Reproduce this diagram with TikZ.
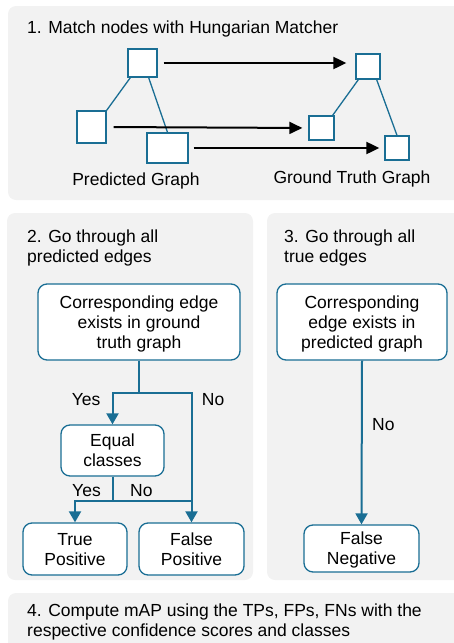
\documentclass[tikz,border=0pt]{standalone}
\usepackage{fontspec}
\setmainfont{Liberation Sans}
\usetikzlibrary{arrows.meta,calc}
\definecolor{teal}{HTML}{1A6E94}
\definecolor{panelgray}{HTML}{F2F2F2}
\begin{document}
\begin{tikzpicture}[x=1pt,y=-1pt,
  every node/.style={font=\fontsize{17.5}{20}\selectfont, inner sep=0pt},
  panel/.style={fill=panelgray, draw=none, rounded corners=8pt},
  sq/.style={draw=teal, fill=white, line width=1.3pt, inner sep=0pt},
  link/.style={draw=teal, line width=1.3pt},
  blk/.style={draw=black, line width=2pt, -{Triangle[length=13pt,width=12pt]}},
  box/.style={draw=teal, fill=white, line width=1.3pt, rounded corners=9pt, align=center, inner sep=0pt, text depth=0pt},
  flow/.style={draw=teal, line width=2pt},
  flowarr/.style={flow, -{Triangle[length=11pt,width=12pt]}},
  lbl/.style={anchor=base west}
]
\useasboundingbox (0,0) rectangle (453,643);
% panels
\fill[panel] (8,6) rectangle (465,200);
\fill[panel] (7,213) rectangle (253,580);
\fill[panel] (267,213) rectangle (465,580);
\fill[panel] (8,593) rectangle (465,660);

% panel 1
\node[lbl] (t1) at (27,33.3) {1. Match nodes with Hungarian Matcher};
\node[sq, minimum width=29pt, minimum height=28pt] (p1) at (142.5,63) {};
\node[sq, minimum width=29pt, minimum height=32pt] (p2) at (91.5,127) {};
\node[sq, minimum width=41pt, minimum height=30pt] (p3) at (167.5,148) {};
\node[sq, minimum width=24pt, minimum height=25pt] (g1) at (368,66.5) {};
\node[sq, minimum width=25pt, minimum height=24pt] (g2) at (321.5,128) {};
\node[sq, minimum width=24pt, minimum height=24pt] (g3) at (397,148) {};
\draw[link] ([xshift=3pt]p1.south west) -- (p2.north east);
\draw[link] ([xshift=-9pt]p1.south east) -- (p3.north);
\draw[link] ([xshift=3pt]g1.south west) -- ([xshift=-2pt]g2.north east);
\draw[link] ([xshift=-4pt]g1.south east) -- (g3.north);
\draw[blk, shorten <=6pt, shorten >=9pt] (p1.east) -- (p1.east -| g1.west);
\draw[blk, shorten <=7pt, shorten >=6pt] (p2.east) -- (g2.west);
\draw[blk, shorten <=5pt, shorten >=5pt] (p3.east) -- (g3.west);
\node[anchor=base] (pg) at (136,185.7) {Predicted Graph};
\node[anchor=base] (gg) at (352,183.3) {Ground Truth Graph};

% panel 2
\node[lbl] (t2a) at (27,242.3) {2. Go through all};
\node[lbl] (t2b) at (27,262.3) {predicted edges};
\node[box, minimum width=202pt, minimum height=76pt] (b1) at (139,322) {Corresponding edge\\exists in ground\\truth graph};
\node[box, minimum width=103pt, minimum height=51pt] (eq) at (112.5,450.5) {Equal\\classes};
\node[box, minimum width=104pt, minimum height=52pt] (tp) at (75,549) {True\\Positive};
\node[box, minimum width=105pt, minimum height=52pt] (fp) at (191.5,549) {False\\Positive};
\coordinate (j1) at (139,393);
\coordinate (j2) at (112.5,501);
\draw[flowarr] (b1.south) -- (j1) -| (eq.north);
\draw[flowarr] (j1) -| (fp.north);
\draw[flowarr] (eq.south) -- (j2) -| (tp.north);
\draw[flow] (j2) -- (j2 -| fp.north);
\node[lbl] (y1) at (71.7,405.7) {Yes};
\node[lbl] (n1) at (201.7,405.7) {No};
\node[lbl] (y2) at (72,496) {Yes};
\node[lbl] (n2) at (130,496) {No};

% panel 3
\node[lbl] (t3a) at (284,242.3) {3. Go through all};
\node[lbl] (t3b) at (284,262.3) {true edges};
\node[box, minimum width=170pt, minimum height=76pt] (b3) at (362,322) {Corresponding\\edge exists in\\predicted graph};
\node[box, minimum width=115pt, minimum height=47pt] (fn) at (361.5,548.5) {False\\Negative};
\draw[flowarr] (b3.south) -- (fn.north);
\node[lbl] (n3) at (372,430.7) {No};

% panel 4
\node[lbl] (t4a) at (27,616.7) {4. Compute mAP using the TPs, FPs, FNs with the};
\node[lbl] (t4b) at (27,636.3) {respective confidence scores and classes};
\end{tikzpicture}
\end{document}
